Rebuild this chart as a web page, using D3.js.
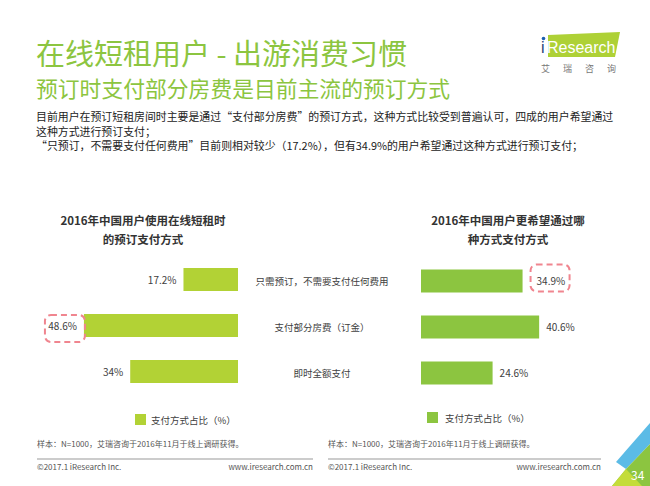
<!DOCTYPE html>
<html>
<head>
<meta charset="utf-8">
<script src="https://cdn.jsdelivr.net/npm/d3@7"></script>
<style>
  body { margin: 0; background: #fff; }
  text { font-family: "Noto Sans CJK SC", "Noto Sans", sans-serif; }
</style>
</head>
<body>
<div id="chart"></div>
<script>
// data
var categories = ["只需预订，不需要支付任何费用", "支付部分房费（订金）", "即时全额支付"];
var currentShare = [17.2, 48.6, 34];
var preferredShare = [34.9, 40.6, 24.6];
var leftTitle = ["2016年中国用户使用在线短租时", "的预订支付方式"];
var rightTitle = ["2016年中国用户更希望通过哪", "种方式支付方式"];
var legendLabel = "支付方式占比（%）";
var paragraph = [
  "目前用户在预订短租房间时主要是通过“支付部分房费”的预订方式，这种方式比较受到普遍认可，四成的用户希望通过",
  "这种方式进行预订支付；",
  "“只预订，不需要支付任何费用”目前则相对较少（17.2%），但有34.9%的用户希望通过这种方式进行预订支付；"
];

var width = 650, height = 486;
var svg = d3.select("#chart").append("svg")
  .attr("width", width)
  .attr("height", height);

var green = "#8cc540", lime = "#b2d235", textColor = "#404040";

// headings
svg.append("text").attr("x", 36).attr("y", 65)
  .style("font-size", "29px").style("fill", green)
  .text("在线短租用户 - 出游消费习惯");
svg.append("text").attr("x", 36).attr("y", 97)
  .style("font-size", "21.8px").style("fill", green)
  .text("预订时支付部分房费是目前主流的预订方式");

svg.selectAll("text.para")
  .data(paragraph)
  .enter().append("text")
  .attr("class", "para")
  .attr("x", 36)
  .attr("y", function (d, i) { return 121 + i * 14.5; })
  .style("font-size", "10.9px").style("fill", "#222")
  .text(function (d) { return d; });

// logo
svg.append("polygon")
  .attr("points", "548,35 620,32 615,57 548,57")
  .style("fill", "#aed136");
svg.append("text").attr("x", 541).attr("y", 53)
  .style("font-size", "16px").style("fill", "#1f3f7a")
  .style("font-family", "Liberation Sans").text("i");
svg.append("circle").attr("cx", 543.5).attr("cy", 38.5).attr("r", 1.8).style("fill", "#1c5fb0");
svg.append("text").attr("x", 547).attr("y", 53)
  .style("font-size", "16px").style("fill", "#fff")
  .style("font-family", "Liberation Sans").text("Research");
svg.append("text").attr("x", 541).attr("y", 72)
  .style("font-size", "9px").style("fill", "#777")
  .style("letter-spacing", "13px").text("艾瑞咨询");

// shared band scale for the rows
var y = d3.scaleBand().domain(categories).range([256.5, 394.5])
  .paddingInner(0.5).paddingOuter(0.25);

// left chart: bars grow leftwards from x=238
var xLeft = d3.scaleLinear().domain([0, 50]).range([0, 158.5]);
var leftEdge = 238;
var gl = svg.append("g");
gl.selectAll("rect.bar")
  .data(currentShare)
  .enter().append("rect")
  .attr("class", "bar")
  .attr("x", function (d) { return leftEdge - xLeft(d); })
  .attr("y", function (d, i) { return y(categories[i]); })
  .attr("width", function (d) { return xLeft(d); })
  .attr("height", y.bandwidth())
  .style("fill", lime);
gl.selectAll("text.val")
  .data(currentShare)
  .enter().append("text")
  .attr("class", "val")
  .attr("x", function (d) { return leftEdge - xLeft(d) - 7; })
  .attr("y", function (d, i) { return y(categories[i]) + y.bandwidth() / 2 + 4; })
  .attr("text-anchor", "end")
  .style("font-size", "10px").style("fill", textColor)
  .text(function (d) { return d + "%"; });

// right chart: bars grow rightwards from x=421
var xRight = d3.scaleLinear().domain([0, 50]).range([0, 145.5]);
var rightEdge = 421;
var yR = y.copy().range([258, 396]);
var gr = svg.append("g");
gr.selectAll("rect.bar")
  .data(preferredShare)
  .enter().append("rect")
  .attr("class", "bar")
  .attr("x", rightEdge)
  .attr("y", function (d, i) { return yR(categories[i]); })
  .attr("width", function (d) { return xRight(d); })
  .attr("height", yR.bandwidth())
  .style("fill", green);
gr.selectAll("text.val")
  .data(preferredShare)
  .enter().append("text")
  .attr("class", "val")
  .attr("x", function (d, i) { return rightEdge + xRight(d) + (i === 0 ? 14 : 7); })
  .attr("y", function (d, i) { return yR(categories[i]) + yR.bandwidth() / 2 + 4; })
  .style("font-size", "10px").style("fill", textColor)
  .text(function (d) { return d + "%"; });

// category labels in the middle
svg.selectAll("text.cat")
  .data(categories)
  .enter().append("text")
  .attr("class", "cat")
  .attr("x", 322)
  .attr("y", function (d) { return y(d) + y.bandwidth() / 2 + 5; })
  .attr("text-anchor", "middle")
  .style("font-size", "9.5px").style("fill", textColor)
  .text(function (d) { return d; });

// chart titles
svg.selectAll("text.ltitle")
  .data(leftTitle)
  .enter().append("text")
  .attr("x", 143).attr("y", function (d, i) { return 225 + i * 19; })
  .attr("text-anchor", "middle")
  .style("font-size", "11.5px").style("font-weight", "bold").style("fill", "#333")
  .text(function (d) { return d; });
svg.selectAll("text.rtitle")
  .data(rightTitle)
  .enter().append("text")
  .attr("x", 508).attr("y", function (d, i) { return 225 + i * 19; })
  .attr("text-anchor", "middle")
  .style("font-size", "11.5px").style("font-weight", "bold").style("fill", "#333")
  .text(function (d) { return d; });

// dashed highlight boxes
var dash = "#f0858f";
var hlLeft = 1, hlRight = 0;
svg.append("rect")
  .attr("x", leftEdge - xLeft(currentShare[hlLeft]) - 39)
  .attr("y", y(categories[hlLeft]) + 1)
  .attr("width", 40).attr("height", 27).attr("rx", 6)
  .style("fill", "none").style("stroke", dash)
  .style("stroke-width", 2).style("stroke-dasharray", "6,4");
svg.append("rect")
  .attr("x", rightEdge + xRight(preferredShare[hlRight]) + 8)
  .attr("y", yR(categories[hlRight]) + 4 - 9)
  .attr("width", 39).attr("height", 27).attr("rx", 6)
  .style("fill", "none").style("stroke", dash)
  .style("stroke-width", 2).style("stroke-dasharray", "6,4");

// legends
svg.append("rect").attr("x", 135).attr("y", 414).attr("width", 11).attr("height", 11).style("fill", lime);
svg.append("text").attr("x", 151).attr("y", 423.5)
  .style("font-size", "9.5px").style("fill", textColor).text(legendLabel);
svg.append("rect").attr("x", 427).attr("y", 412).attr("width", 11).attr("height", 11).style("fill", green);
svg.append("text").attr("x", 445).attr("y", 421.5)
  .style("font-size", "9.5px").style("fill", textColor).text(legendLabel);

// footers
[[37, 313], [328, 601]].forEach(function (f) {
  svg.append("text").attr("x", f[0]).attr("y", 447)
    .style("font-size", "8px").style("fill", "#555")
    .text("样本：N=1000，艾瑞咨询于2016年11月于线上调研获得。");
  svg.append("line").attr("x1", f[0]).attr("x2", f[1])
    .attr("y1", 459).attr("y2", 459)
    .style("stroke", "#999").style("stroke-width", 1);
  svg.append("text").attr("x", f[0]).attr("y", 470)
    .style("font-size", "8px").style("fill", "#555")
    .text("©2017.1 iResearch Inc.");
  svg.append("text").attr("x", f[1]).attr("y", 470)
    .attr("text-anchor", "end")
    .style("font-size", "8px").style("fill", "#555")
    .text("www.iresearch.com.cn");
});

// corner decoration
svg.append("polygon").attr("points", "616,462 650,423 650,444 626,469").style("fill", "#5bbbe6");
svg.append("polygon").attr("points", "626,469 650,444 650,486 612,486").style("fill", "#8cc540");
svg.append("polygon").attr("points", "612,486 626,469 642,486").style("fill", "#c4dc3a");
svg.append("text").attr("x", 631).attr("y", 480)
  .style("font-size", "12px").style("fill", "#fff").text("34");
</script>
</body>
</html>
